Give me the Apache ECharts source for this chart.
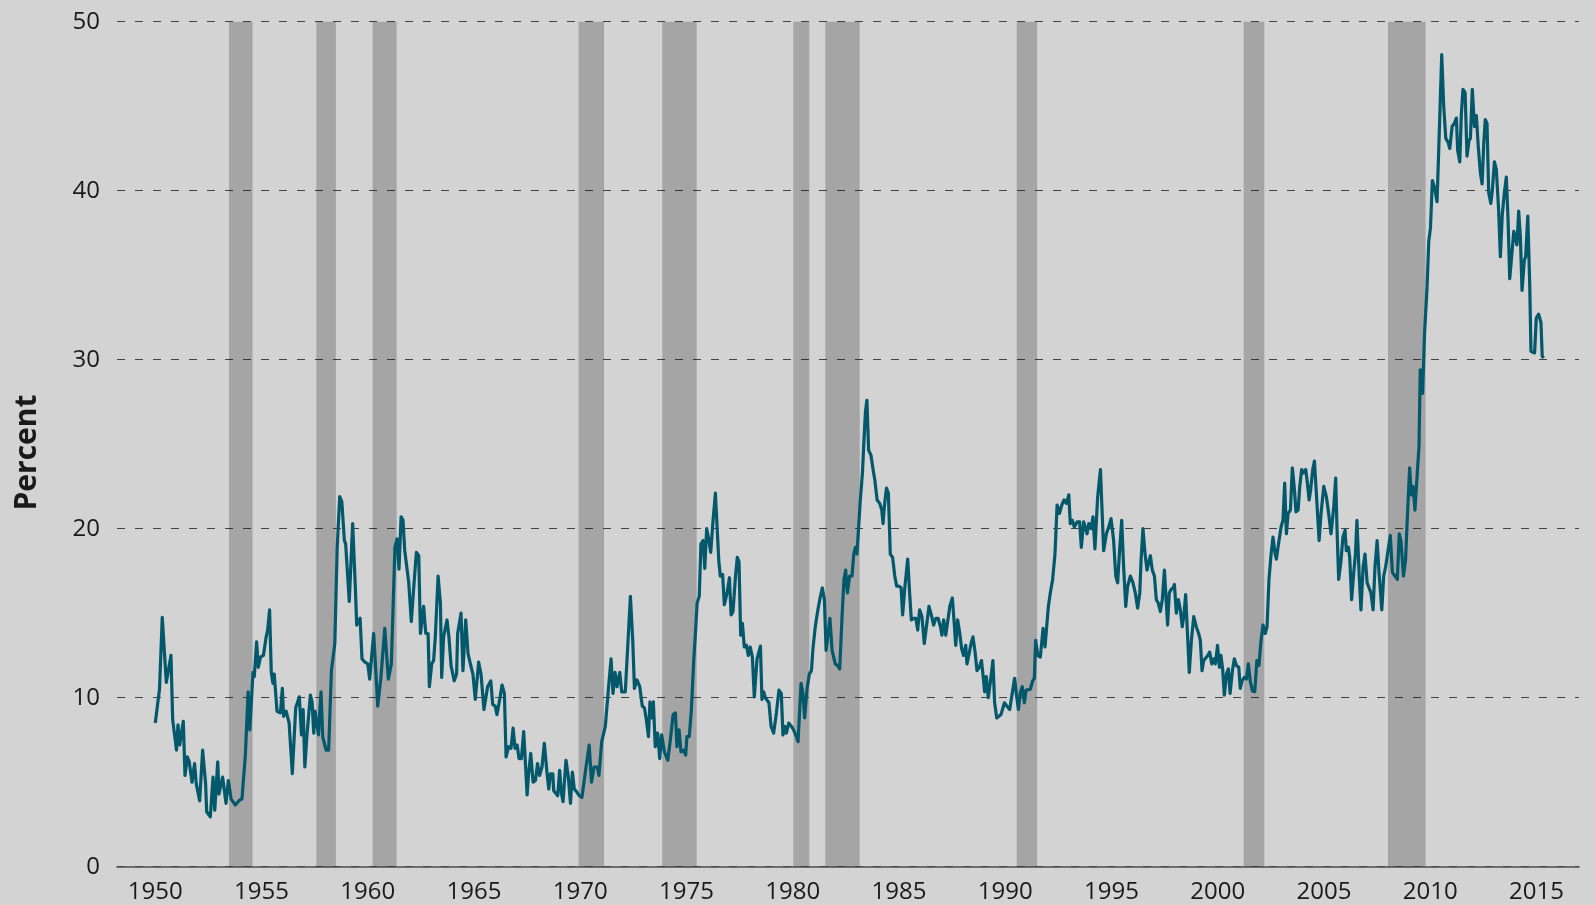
<!DOCTYPE html>
<html>
<head>
<meta charset="utf-8">
<script src="https://cdn.jsdelivr.net/npm/echarts@6/dist/echarts.min.js"></script>
<style>
  html, body { margin: 0; padding: 0; background: #d3d3d3; }
  #chart { width: 1595px; height: 905px; }
</style>
</head>
<body>
<div id="chart"></div>
<script>
// ---- DATA (decimal year, percent) ----
const seg1950s = [
  [1950.00,8.5],[1950.20,10.5],[1950.33,14.75],[1950.52,10.9],[1950.60,10.9],[1950.74,12.5],[1950.82,8.7],
  [1951.00,6.9],[1951.07,8.4],[1951.15,7.2],[1951.32,8.6],[1951.40,5.4],[1951.51,6.5],[1951.60,6.2],[1951.73,5.0],[1951.85,6.1],[1951.93,4.9],
  [1952.09,3.9],[1952.23,6.9],[1952.37,4.9],[1952.42,3.25],[1952.59,2.95],[1952.72,5.3],[1952.80,3.35],[1952.94,6.2],
  [1953.00,4.3],[1953.17,5.3],[1953.33,3.75],[1953.44,5.1],[1953.57,4.0],[1953.77,3.65],[1953.97,3.95],
  [1954.08,4.0],[1954.24,6.6],[1954.37,10.35],[1954.45,8.1],[1954.60,11.5],[1954.66,11.25],[1954.77,13.3],[1954.85,11.8],[1954.95,12.4],
  [1955.09,12.5],[1955.22,13.6],[1955.29,14.0],[1955.38,15.2],[1955.46,11.5],[1955.54,10.85],[1955.60,11.4],[1955.73,9.2],[1955.89,9.1],[1955.98,10.55],
  [1956.04,8.9],[1956.16,9.2],[1956.30,8.5],[1956.45,5.5],[1956.61,9.4],[1956.70,9.5],[1956.78,10.05],[1956.88,7.8],[1956.96,9.3],
  [1957.04,5.9],[1957.14,7.8],[1957.30,10.15],[1957.38,9.75],[1957.46,7.9],[1957.52,9.2],[1957.61,9.2],[1957.68,7.8],[1957.74,9.1],[1957.80,10.35],[1957.88,7.7],
  [1958.04,6.9],[1958.16,6.9],[1958.29,11.6],[1958.45,13.2],[1958.56,18.8],[1958.68,21.9],[1958.78,21.6],[1958.90,19.3],[1958.96,19.1],
  [1959.13,15.7],[1959.29,20.3],[1959.42,16.4],[1959.48,14.3],[1959.64,14.7],[1959.73,12.3],[1959.87,12.1]
];
const seg1960s = [
  [1960.00,12.0],[1960.09,11.1],[1960.28,13.8],[1960.47,9.5],[1960.62,11.2],[1960.80,14.1],[1960.97,11.1],
  [1961.11,12.0],[1961.28,18.9],[1961.38,19.4],[1961.47,17.6],[1961.57,20.7],[1961.66,20.5],[1961.74,18.7],[1961.93,16.8],
  [1962.05,14.5],[1962.18,16.8],[1962.29,18.6],[1962.40,18.4],[1962.48,13.8],[1962.63,15.4],[1962.73,13.8],[1962.84,13.8],[1962.90,10.65],
  [1963.01,12.0],[1963.10,12.2],[1963.18,13.6],[1963.31,17.2],[1963.42,15.6],[1963.48,11.2],[1963.57,13.6],[1963.73,14.6],[1963.82,13.6],[1963.92,11.9],
  [1964.07,11.0],[1964.18,11.4],[1964.23,13.8],[1964.39,15.0],[1964.48,11.6],[1964.61,14.6],[1964.72,12.6],[1964.83,12.0],[1964.95,11.4],
  [1965.06,9.9],[1965.22,12.1],[1965.33,11.4],[1965.47,9.3],[1965.64,10.65],[1965.79,11.0],[1965.88,9.6],
  [1966.00,9.5],[1966.08,9.0],[1966.21,9.9],[1966.32,10.75],[1966.43,10.25],[1966.51,6.5],[1966.63,7.1],[1966.74,7.0],[1966.84,8.2],[1966.93,7.0],
  [1967.03,7.2],[1967.12,6.4],[1967.23,6.4],[1967.34,8.0],[1967.50,4.25],[1967.57,5.5],[1967.67,6.7],[1967.78,5.0],[1967.89,5.1],[1967.99,6.1],
  [1968.09,5.4],[1968.20,5.9],[1968.31,7.3],[1968.44,5.5],[1968.52,4.6],[1968.60,5.5],[1968.71,5.5],[1968.75,4.5],[1968.83,4.4],[1968.94,4.2],
  [1969.03,5.7],[1969.11,4.4],[1969.19,3.85],[1969.33,6.3],[1969.44,5.3],[1969.54,3.75],[1969.63,5.6],[1969.72,4.6],[1969.85,4.4],[1969.96,4.2]
];
const seg1970s = [
  [1970.08,4.1],[1970.24,5.6],[1970.42,7.2],[1970.53,5.0],[1970.65,5.9],[1970.80,5.9],[1970.88,5.4],
  [1971.01,7.4],[1971.18,8.3],[1971.34,10.75],[1971.45,12.3],[1971.54,10.25],[1971.64,11.5],[1971.73,10.65],[1971.86,11.5],[1971.95,10.35],
  [1972.12,10.35],[1972.25,13.4],[1972.36,16.0],[1972.47,13.4],[1972.55,10.55],[1972.67,11.05],[1972.80,10.65],[1972.92,9.5],
  [1973.02,9.4],[1973.11,8.7],[1973.21,7.7],[1973.28,9.75],[1973.38,8.8],[1973.44,9.75],[1973.53,7.1],[1973.64,7.9],[1973.74,6.4],[1973.83,7.8],[1973.96,6.8],
  [1974.12,6.3],[1974.24,7.5],[1974.37,9.0],[1974.48,9.1],[1974.55,7.1],[1974.65,8.1],[1974.74,6.8],[1974.87,6.9],[1974.96,6.6],
  [1975.02,7.7],[1975.13,7.7],[1975.23,9.3],[1975.34,12.2],[1975.42,13.8],[1975.50,15.6],[1975.60,16.0],[1975.68,19.1],[1975.78,19.3],[1975.86,17.65],[1975.95,20.0],
  [1976.04,19.4],[1976.14,18.6],[1976.25,20.5],[1976.36,22.1],[1976.44,20.1],[1976.52,18.1],[1976.59,17.2],[1976.70,17.3],[1976.78,15.5],[1976.91,16.2],
  [1977.02,17.1],[1977.10,14.9],[1977.19,15.1],[1977.30,17.1],[1977.39,18.3],[1977.47,18.05],[1977.55,13.7],[1977.63,14.4],[1977.72,13.0],[1977.82,13.1],[1977.91,12.5],
  [1978.00,13.0],[1978.10,12.4],[1978.19,10.05],[1978.32,12.3],[1978.48,13.05],[1978.55,9.9],[1978.63,10.35],[1978.71,10.0],[1978.79,9.9],[1978.88,9.7],[1978.98,8.3],
  [1979.10,7.9],[1979.23,9.1],[1979.35,10.45],[1979.46,10.25],[1979.54,7.8],[1979.64,8.3],[1979.70,7.9],[1979.81,8.5],[1979.94,8.3]
];
const seg1980s = [
  [1980.04,8.1],[1980.17,7.7],[1980.25,7.4],[1980.39,10.85],[1980.48,10.25],[1980.56,8.8],[1980.67,10.5],[1980.78,11.4],[1980.88,11.6],[1980.95,12.9],
  [1981.06,14.2],[1981.17,15.1],[1981.27,15.8],[1981.39,16.5],[1981.49,15.8],[1981.57,12.8],[1981.65,12.9],[1981.75,14.7],[1981.85,12.8],[1981.93,12.8],
  [1982.00,12.0],[1982.11,11.9],[1982.21,11.7],[1982.32,14.8],[1982.41,17.0],[1982.49,17.55],[1982.57,16.2],[1982.68,17.2],[1982.79,17.2],[1982.87,18.5],[1982.95,18.9],
  [1983.02,18.5],[1983.10,20.1],[1983.18,21.7],[1983.28,23.3],[1983.35,25.2],[1983.42,26.9],[1983.49,27.6],[1983.57,24.65],[1983.68,24.35],[1983.78,23.5],[1983.86,22.9],[1983.97,21.7],
  [1984.09,21.5],[1984.19,21.1],[1984.25,20.3],[1984.31,21.3],[1984.41,22.4],[1984.50,22.1],[1984.59,18.5],[1984.70,18.3],[1984.80,17.2],[1984.89,16.6],
  [1985.00,16.6],[1985.10,16.5],[1985.17,14.9],[1985.28,16.6],[1985.41,18.2],[1985.50,16.2],[1985.58,14.6],[1985.69,14.7],[1985.79,14.7],[1985.88,14.0],[1985.97,15.2],
  [1986.08,14.8],[1986.19,13.2],[1986.29,14.2],[1986.41,15.4],[1986.52,14.9],[1986.63,14.3],[1986.73,14.7],[1986.84,14.7],[1986.95,14.2],
  [1987.02,13.7],[1987.10,14.6],[1987.20,13.7],[1987.29,13.7],[1987.39,15.4],[1987.51,15.9],[1987.61,14.2],[1987.67,13.1],[1987.76,14.6],[1987.86,13.8],[1987.95,12.9],
  [1988.04,12.5],[1988.14,13.1],[1988.20,12.0],[1988.30,12.6],[1988.39,13.2],[1988.48,13.6],[1988.58,12.7],[1988.67,11.6],[1988.78,11.8],[1988.88,12.2],[1988.95,11.4],
  [1989.03,10.35],[1989.11,11.25],[1989.20,10.0],[1989.30,10.95],[1989.42,12.2],[1989.50,9.7],[1989.60,8.8],[1989.69,8.8],[1989.80,9.0],[1989.96,9.7]
];
const seg1990s = [
  [1990.08,9.5],[1990.21,9.3],[1990.30,9.2],[1990.44,11.15],[1990.52,10.25],[1990.62,9.3],[1990.71,10.3],[1990.80,10.65],[1990.90,9.7],[1990.98,10.45],
  [1991.07,10.45],[1991.18,10.5],[1991.29,11.0],[1991.37,11.15],[1991.43,13.4],[1991.53,12.5],[1991.65,12.4],[1991.78,14.1],[1991.87,13.0],[1991.95,12.9],
  [1992.03,15.4],[1992.12,16.2],[1992.23,17.0],[1992.34,18.5],[1992.44,21.4],[1992.55,20.9],[1992.66,21.4],[1992.77,21.7],[1992.88,21.5],[1992.99,22.0],
  [1993.06,20.3],[1993.16,20.5],[1993.25,20.1],[1993.38,20.4],[1993.50,20.4],[1993.58,18.9],[1993.69,20.4],[1993.77,20.5],[1993.85,19.7],[1993.93,20.3],
  [1994.04,20.0],[1994.13,20.7],[1994.22,18.8],[1994.35,21.9],[1994.48,23.5],[1994.63,18.7],[1994.76,19.7],[1994.87,20.1],[1994.98,20.6],
  [1995.10,19.3],[1995.20,17.2],[1995.29,16.8],[1995.37,18.5],[1995.48,20.5],[1995.57,17.75],[1995.67,15.4],[1995.76,16.6],[1995.89,17.2],
  [1996.01,16.8],[1996.12,16.2],[1996.23,15.3],[1996.33,16.2],[1996.39,18.1],[1996.48,20.0],[1996.58,18.5],[1996.67,17.55],[1996.77,18.1],[1996.83,18.4],[1996.92,17.55],
  [1997.02,17.2],[1997.11,15.8],[1997.20,15.6],[1997.30,15.1],[1997.39,15.8],[1997.49,17.55],[1997.57,15.8],[1997.64,14.3],[1997.72,16.2],[1997.80,16.4],[1997.90,16.5],[1997.96,16.7],
  [1998.05,15.0],[1998.15,15.8],[1998.24,15.2],[1998.33,14.2],[1998.40,14.8],[1998.49,16.1],[1998.59,13.4],[1998.66,11.5],[1998.76,13.4],[1998.87,14.8],[1998.99,14.2],
  [1999.10,13.8],[1999.18,13.4],[1999.26,11.6],[1999.34,12.2],[1999.43,12.3],[1999.53,12.5],[1999.62,12.7],[1999.72,12.0],[1999.81,12.3],[1999.89,12.0],[1999.99,13.1]
];
const seg2000s = [
  [2000.08,11.8],[2000.15,12.5],[2000.23,11.7],[2000.31,10.15],[2000.41,11.4],[2000.50,11.7],[2000.58,10.25],[2000.69,11.6],[2000.78,12.3],[2000.88,11.9],[2000.99,11.8],
  [2001.06,10.55],[2001.14,11.0],[2001.25,11.2],[2001.35,11.1],[2001.44,12.0],[2001.53,11.0],[2001.63,10.4],[2001.74,10.35],[2001.84,12.2],[2001.94,11.9],
  [2002.03,13.3],[2002.13,14.3],[2002.24,13.8],[2002.32,14.2],[2002.41,17.0],[2002.51,18.5],[2002.60,19.5],[2002.70,18.5],[2002.76,18.2],[2002.87,19.2],[2002.98,20.1],
  [2003.07,20.5],[2003.15,22.7],[2003.23,19.7],[2003.31,20.9],[2003.42,21.1],[2003.51,23.6],[2003.61,22.3],[2003.68,21.0],[2003.78,21.1],[2003.86,22.5],[2003.95,23.5],
  [2004.04,23.3],[2004.14,23.5],[2004.22,22.7],[2004.30,21.7],[2004.37,22.3],[2004.47,23.5],[2004.55,24.0],[2004.64,22.1],[2004.77,19.3],[2004.86,20.9],[2004.99,22.5],
  [2005.11,21.9],[2005.22,20.9],[2005.33,19.7],[2005.46,21.3],[2005.55,23.0],[2005.61,20.1],[2005.69,17.0],[2005.80,18.1],[2005.89,19.5],[2005.99,19.9],
  [2006.05,18.7],[2006.15,18.9],[2006.21,18.3],[2006.30,15.8],[2006.40,17.4],[2006.48,18.5],[2006.55,20.5],[2006.65,17.4],[2006.74,15.2],[2006.84,17.75],[2006.93,18.5],
  [2007.03,16.8],[2007.12,16.8],[2007.21,16.2],[2007.31,15.2],[2007.40,17.75],[2007.50,19.3],[2007.59,17.4],[2007.72,15.2],[2007.81,17.2],[2007.90,17.75],[2007.99,18.5],
  [2008.12,19.6],[2008.22,17.4],[2008.34,17.2],[2008.45,17.0],[2008.54,19.7],[2008.62,19.3],[2008.74,17.2],[2008.84,18.2],[2008.93,20.9],
  [2009.03,23.6],[2009.11,22.0],[2009.19,22.5],[2009.28,21.1],[2009.40,23.5],[2009.47,24.85],[2009.53,29.4],[2009.64,28.0],[2009.73,31.5],[2009.85,34.3],[2009.93,37.0]
];
const seg2010s = [
  [2010.01,37.8],[2010.10,40.6],[2010.21,40.15],[2010.32,39.35],[2010.41,42.86],[2010.54,48.06],[2010.63,45.1],[2010.73,43.1],[2010.84,42.86],[2010.92,42.5],
  [2011.03,43.8],[2011.14,44.0],[2011.23,44.3],[2011.29,42.4],[2011.39,41.7],[2011.46,44.45],[2011.54,46.0],[2011.64,45.8],[2011.73,42.05],[2011.82,42.95],[2011.89,43.1],[2011.98,46.0],
  [2012.08,43.8],[2012.17,44.45],[2012.26,42.6],[2012.36,41.05],[2012.44,40.4],[2012.52,42.86],[2012.59,44.2],[2012.67,44.0],[2012.75,39.9],[2012.85,39.25],[2012.92,40.0],
  [2013.02,41.7],[2013.11,41.25],[2013.22,38.8],[2013.30,36.1],[2013.39,38.6],[2013.49,39.9],[2013.58,40.8],[2013.66,38.35],[2013.74,34.8],[2013.83,36.1],[2013.93,37.6],
  [2014.02,37.5],[2014.08,36.8],[2014.16,38.8],[2014.24,37.3],[2014.32,34.1],[2014.43,35.9],[2014.49,36.1],[2014.59,38.5],[2014.68,34.5],[2014.74,30.5],[2014.82,30.4],[2014.91,30.4],[2014.99,32.45],
  [2015.10,32.7],[2015.21,32.2],[2015.27,30.2],[2015.34,30.1]
];

// Recession shading (decimal years)
const recessionStarts = [1953.47, 1957.58, 1960.23, 1969.92, 1973.86, 1980.03, 1981.53, 1990.54, 2001.22, 2008.01];
const recessionEnds   = [1954.58, 1958.50, 1961.36, 1971.12, 1975.48, 1980.78, 1983.15, 1991.50, 2002.19, 2009.78];

// Axis ticks
const xTickYears = [1950, 1955, 1960, 1965, 1970, 1975, 1980, 1985, 1990, 1995, 2000, 2005, 2010, 2015];
const yTicks = [0, 10, 20, 30, 40, 50];
const yAxisTitle = 'Percent';

// ---- CHART ----
const lineData = [].concat(seg1950s, seg1960s, seg1970s, seg1980s, seg1990s, seg2000s, seg2010s);
const recessionAreas = recessionStarts.map((s, i) => [{ xAxis: s }, { xAxis: recessionEnds[i] }]);

const chart = echarts.init(document.getElementById('chart'), null, { renderer: 'canvas' });
const FONT = '"Open Sans", "Noto Sans", sans-serif';

chart.setOption({
  backgroundColor: '#d3d3d3',
  animation: false,
  grid: { left: 117, right: 16, top: 21.7, bottom: 38.3, containLabel: false },
  xAxis: {
    type: 'value',
    min: 1948.2,
    max: 2017.0,
    axisLine: { show: true, onZero: false, lineStyle: { color: '#4d4d4d', width: 1.6 } },
    axisTick: { show: false },
    splitLine: { show: false },
    axisLabel: {
      customValues: xTickYears,
      formatter: v => String(v),
      fontSize: 24,
      fontFamily: FONT,
      color: '#1a1a1a',
      margin: 13
    }
  },
  yAxis: {
    type: 'value',
    min: yTicks[0],
    max: yTicks[yTicks.length - 1],
    interval: 10,
    axisLine: { show: false },
    axisTick: { show: false },
    splitLine: { show: true, lineStyle: { type: [8, 10], color: '#444444', width: 1.1 } },
    axisLabel: {
      fontSize: 24,
      fontFamily: FONT,
      color: '#1a1a1a',
      margin: 17
    }
  },
  graphic: [{
    type: 'text',
    left: 12,
    top: 'middle',
    rotation: Math.PI / 2,
    style: {
      text: yAxisTitle,
      font: 'bold 30px ' + FONT,
      fill: '#1a1a1a',
      textAlign: 'center',
      textVerticalAlign: 'middle'
    }
  }],
  series: [{
    type: 'line',
    data: lineData,
    showSymbol: false,
    symbol: 'none',
    lineStyle: { color: '#04586b', width: 3.2, join: 'round' },
    z: 3,
    markArea: {
      silent: true,
      itemStyle: { color: 'rgba(0,0,0,0.215)', borderWidth: 0 },
      label: { show: false },
      emphasis: { disabled: true },
      data: recessionAreas
    }
  }]
});
</script>
</body>
</html>
